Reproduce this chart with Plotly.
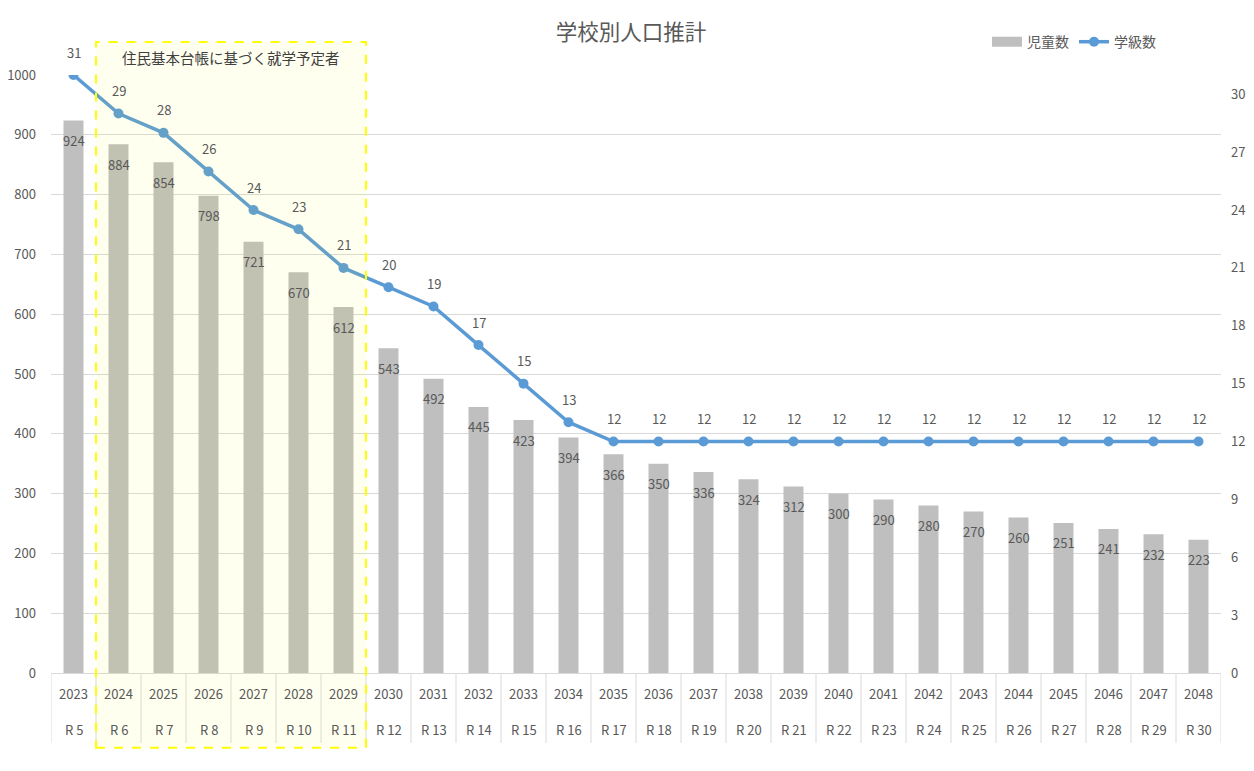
import plotly.graph_objects as go

years = [str(y) for y in range(2023, 2049)]
reiwa = ["R " + str(n) for n in range(5, 31)]
children = [924, 884, 854, 798, 721, 670, 612, 543, 492, 445, 423, 394, 366,
            350, 336, 324, 312, 300, 290, 280, 270, 260, 251, 241, 232, 223]
classes = [31, 29, 28, 26, 24, 23, 21, 20, 19, 17, 15, 13, 12,
           12, 12, 12, 12, 12, 12, 12, 12, 12, 12, 12, 12, 12]
box_first, box_last = 1, 6  # indices of 2024..2029
box_label = "住民基本台帳に基づく就学予定者"

FONT = "Noto Sans CJK JP"
TXT = "#595959"
GRID = "#D9D9D9"
BAR = "#BFBFBF"
LINE = "#5B9BD5"

fig = go.Figure()
fig.add_trace(go.Bar(x=years, y=children, name="児童数", marker_color=BAR,
                     marker_line_width=0, yaxis="y", showlegend=False))
# legend entry for the bars (wide rectangle swatch like the original)
fig.add_trace(go.Scatter(x=[None], y=[None], name="児童数", mode="lines",
                         line=dict(color=BAR, width=10), yaxis="y"))
fig.add_trace(go.Scatter(x=years, y=classes, name="学級数", mode="lines+markers",
                         line=dict(color=LINE, width=3.5),
                         marker=dict(size=10, color=LINE), yaxis="y2"))

def t(size=13, color=TXT):
    return dict(size=size, color=color, family=FONT)

ann = []
for i, (yr, r, c, k) in enumerate(zip(years, reiwa, children, classes)):
    ann.append(dict(x=i, y=c, xref="x", yref="y", text=str(c), showarrow=False,
                    yanchor="middle", yshift=-20, font=t()))
    ann.append(dict(x=i, y=k, xref="x", yref="y2", text=str(k), showarrow=False,
                    yanchor="middle", yshift=23, font=t()))
    ann.append(dict(x=i, y=-0.035, xref="x", yref="paper", text=yr, showarrow=False,
                    yanchor="middle", font=t()))
    ann.append(dict(x=i, y=-0.094, xref="x", yref="paper", text=r, showarrow=False,
                    yanchor="middle", font=t()))
ann.append(dict(x=(box_first + box_last) / 2, y=1.030, xref="x", yref="paper",
                text=box_label, showarrow=False, yanchor="middle",
                font=t(14.5, "#404040")))

shapes = []
for i in range(len(years) + 1):
    shapes.append(dict(type="line", xref="x", yref="paper", x0=i - 0.5, x1=i - 0.5,
                       y0=0, y1=-0.117, line=dict(color=GRID, width=1)))
shapes.append(dict(type="rect", xref="x", yref="paper", x0=box_first - 0.5,
                   x1=box_last + 0.5, y0=-0.125, y1=1.055, layer="above",
                   fillcolor="rgba(255,255,0,0.06)",
                   line=dict(color="#FFFF00", width=2, dash="dash")))

fig.update_layout(
    width=1246, height=763, autosize=False,
    margin=dict(l=43, r=33, t=67, b=98, autoexpand=False),
    paper_bgcolor="white", plot_bgcolor="white",
    font=t(),
    title=dict(text="学校別人口推計", x=0.5, xanchor="center", y=1 - 24 / 763,
               yanchor="middle", font=t(21.5)),
    bargap=0.556,
    showlegend=True,
    legend=dict(orientation="h", x=0.80, xanchor="left", y=1.055, yanchor="middle",
                font=t(14), bgcolor="rgba(0,0,0,0)", itemwidth=30,
                traceorder="normal"),
    xaxis=dict(type="category", showticklabels=False, showgrid=False,
               showline=True, linecolor=GRID, linewidth=1, ticks="",
               range=[-0.5, len(years) - 0.5], automargin=False),
    yaxis=dict(range=[0, 1000], dtick=100, showgrid=True, gridcolor=GRID,
               gridwidth=1, zeroline=False, showline=False, ticks="",
               ticklabelstandoff=14, tickfont=t(), automargin=False),
    yaxis2=dict(range=[0, 31], tickvals=list(range(0, 31, 3)), overlaying="y",
                side="right", showgrid=False, zeroline=False, showline=False,
                ticks="", ticklabelstandoff=9, tickfont=t(), automargin=False),
    annotations=ann,
    shapes=shapes,
)

fig.write_html("out.html")
